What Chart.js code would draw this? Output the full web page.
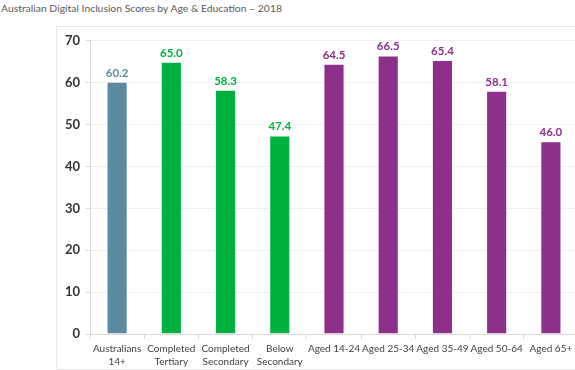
<!DOCTYPE html>
<html><head><meta charset="utf-8">
<script src="https://cdn.jsdelivr.net/npm/chart.js@4/dist/chart.umd.min.js"></script>
<style>
html,body{margin:0;padding:0;width:575px;height:370px;overflow:hidden;background:#fff;}
#title{position:absolute;left:1px;top:2px;font:10.4px Lato,"Open Sans",sans-serif;color:#595959;white-space:nowrap;}
#box{position:absolute;left:56px;top:26px;width:540px;height:342px;border:1px solid #e8e8e8;}
#wrap{position:absolute;left:0;top:0;width:521px;height:342px;}
</style></head><body>
<div id="title">Australian Digital Inclusion Scores by Age &amp; Education – 2018</div>
<div id="box"><div id="wrap"><canvas id="c"></canvas></div></div>
<script>
const categories = [["Australians","14+"],["Completed","Tertiary"],["Completed","Secondary"],["Below","Secondary"],"Aged 14-24","Aged 25-34","Aged 35-49","Aged 50-64","Aged 65+"];
const scores = [60.2, 65.0, 58.3, 47.4, 64.5, 66.5, 65.4, 58.1, 46.0];
const groups = ["all","edu","edu","edu","age","age","age","age","age"];
const yTicks = [0,10,20,30,40,50,60,70];
const groupColors = {all:"#5A8AA0", edu:"#00B140", age:"#8E3089"};
const barColors = groups.map(g => groupColors[g]);

const labelPlugin = {
  id:"vals",
  afterDatasetsDraw(chart){
    const ctx = chart.ctx;
    const meta = chart.getDatasetMeta(0);
    ctx.save();
    ctx.font = "bold 11.5px Lato, sans-serif";
    ctx.textAlign = "center";
    ctx.textBaseline = "bottom";
    meta.data.forEach((bar,i)=>{
      ctx.fillStyle = barColors[i];
      ctx.fillText(scores[i].toFixed(1), bar.x, bar.y - 3);
    });
    ctx.restore();
  }
};

new Chart(document.getElementById("c"), {
  type:"bar",
  data:{labels:categories, datasets:[{data:scores, backgroundColor:barColors, borderColor:"rgba(255,255,255,0.35)", borderWidth:1, barPercentage:0.39, categoryPercentage:1}]},
  options:{
    responsive:true, maintainAspectRatio:false, animation:false,
    layout:{padding:{top:12.5,left:0,right:0,bottom:0}},
    plugins:{legend:{display:false}, tooltip:{enabled:false}},
    scales:{
      x:{
        grid:{offset:true, drawOnChartArea:false, color:"#d9d9d9", tickLength:5},
        border:{color:"#d9d9d9"},
        ticks:{color:"#404040", font:{family:"Lato", size:10, lineHeight:1.3}, maxRotation:0, autoSkip:false, padding:3},
        afterFit(s){ s.height = 35; }
      },
      y:{
        min:0, max:70,
        afterBuildTicks(s){ s.ticks = yTicks.map(v=>({value:v})); },
        grid:{color:"#efefef", tickLength:4, tickColor:"#d9d9d9"},
        border:{color:"#d9d9d9"},
        ticks:{color:"#333", font:{family:"Lato", size:13, weight:"bold"}, padding:6},
        afterFit(s){ s.width = 33; }
      }
    }
  },
  plugins:[labelPlugin]
});
</script>
</body></html>
